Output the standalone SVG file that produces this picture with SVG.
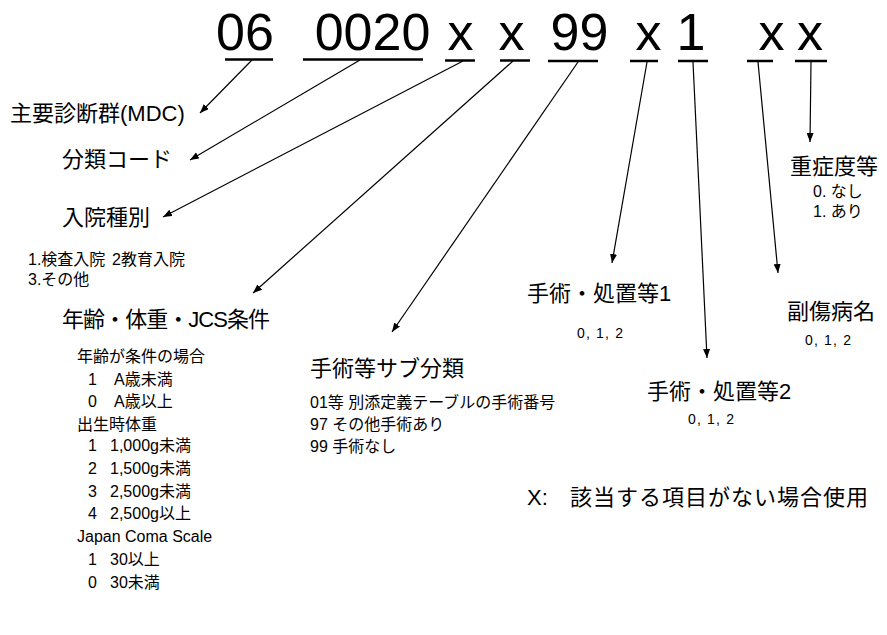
<svg xmlns="http://www.w3.org/2000/svg" width="887" height="635" viewBox="0 0 887 635">
<style>
.code{font-family:"Liberation Sans",Arial,sans-serif;font-size:52px;fill:#000;text-anchor:middle}
.ul{stroke:#000;stroke-width:2.6;fill:none}
.con{stroke:#000;stroke-width:1.2;fill:none;marker-end:url(#ah)}
.lb{font-family:"Liberation Sans","Noto Sans CJK JP",sans-serif;font-size:22px;fill:#000}
.sm{font-family:"Liberation Sans","Noto Sans CJK JP",sans-serif;font-size:16px;fill:#000}
.nm{font-family:"Liberation Sans","Noto Sans CJK JP",sans-serif;font-size:14px;fill:#000}
</style>
<defs>
<marker id="ah" markerUnits="userSpaceOnUse" markerWidth="9" markerHeight="7" refX="9" refY="3.5" orient="auto">
<path d="M0,0 L9,3.5 L0,7 z" fill="#000"/>
</marker>
</defs>
<rect width="887" height="635" fill="#fff"/>
<g id="code">
<text class="code" x="245" y="50">06</text>
<text class="code" x="372.5" y="50">0020</text>
<text class="code" x="460.5" y="50">x</text>
<text class="code" x="511.5" y="50">x</text>
<text class="code" x="579.5" y="50">99</text>
<text class="code" x="648.5" y="50">x</text>
<text class="code" x="691" y="50">1</text>
<text class="code" x="771.5" y="50">x</text>
<text class="code" x="810" y="50">x</text>
<path class="ul" d="M225,59.5H273 M303,59.5H423 M445,60.5H475 M500,60.5H530 M548,61H598 M630,61H658 M678,61H708 M747,61H773 M795,61H827"/>
</g>
<g id="connectors">
<path class="con" d="M252,60 L200,113"/>
<path class="con" d="M360,60 L190,160"/>
<path class="con" d="M463,61 L163,217"/>
<path class="con" d="M513,61 L253,293"/>
<path class="con" d="M578,62 L392,332"/>
<path class="con" d="M647,62 L612,263"/>
<path class="con" d="M693,62 L707,358"/>
<path class="con" d="M758,62 L778,273"/>
<path class="con" d="M811,62 L810,142"/>
</g>
<g id="mdc"><text class="lb" x="10" y="121" font-size="23">主要診断群(MDC)</text></g>
<g id="bunrui"><text class="lb" x="62" y="167">分類コード</text></g>
<g id="nyuin">
<text class="lb" x="62" y="225">入院種別</text>
<text class="sm" x="28" y="265">1.検査入院<tspan x="112">2教育入院</tspan></text>
<text class="sm" x="28" y="285">3.その他</text>
</g>
<g id="joken">
<text class="lb" x="62" y="327" font-size="21" textLength="208">年齢・体重・JCS条件</text>
<text class="sm" x="77" y="362">年齢が条件の場合</text>
<text class="sm" x="88" y="385">1<tspan x="114">A歳未満</tspan></text>
<text class="sm" x="88" y="407">0<tspan x="114">A歳以上</tspan></text>
<text class="sm" x="77" y="430">出生時体重</text>
<text class="sm" x="88" y="451">1<tspan x="110">1,000g未満</tspan></text>
<text class="sm" x="88" y="474">2<tspan x="110">1,500g未満</tspan></text>
<text class="sm" x="88" y="497">3<tspan x="110">2,500g未満</tspan></text>
<text class="sm" x="88" y="519">4<tspan x="110">2,500g以上</tspan></text>
<text class="sm" x="77" y="542">Japan Coma Scale</text>
<text class="sm" x="88" y="565">1<tspan x="110">30以上</tspan></text>
<text class="sm" x="88" y="588">0<tspan x="110">30未満</tspan></text>
</g>
<g id="subbunrui">
<text class="lb" x="310" y="376" font-size="23">手術等サブ分類</text>
<text class="sm" x="310" y="408">01等 別添定義テーブルの手術番号</text>
<text class="sm" x="310" y="430">97 その他手術あり</text>
<text class="sm" x="310" y="452">99 手術なし</text>
</g>
<g id="shochi1">
<text class="lb" x="527" y="301" font-size="21">手術・処置等1</text>
<text class="nm" x="577" y="338" textLength="46">0, 1, 2</text>
</g>
<g id="shochi2">
<text class="lb" x="647" y="399" font-size="21">手術・処置等2</text>
<text class="nm" x="688" y="424" textLength="46">0, 1, 2</text>
</g>
<g id="fukushobyo">
<text class="lb" x="787" y="319">副傷病名</text>
<text class="nm" x="805" y="345" textLength="46">0, 1, 2</text>
</g>
<g id="jushodo">
<text class="lb" x="790" y="174">重症度等</text>
<text class="sm" x="813" y="197">0. なし</text>
<text class="sm" x="813" y="217">1. あり</text>
</g>
<g id="note"><text class="lb" x="527" y="505">X:<tspan x="570" textLength="298">該当する項目がない場合使用</tspan></text></g>
</svg>
